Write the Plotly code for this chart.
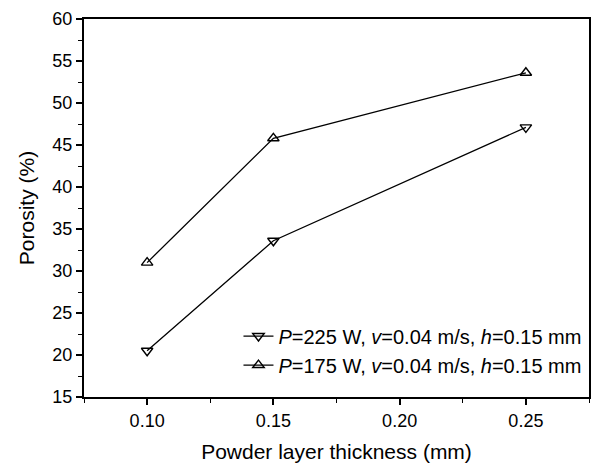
import plotly.graph_objects as go

thickness = [0.10, 0.15, 0.25]
porosity_225 = [20.5, 33.6, 47.1]
porosity_175 = [31.0, 45.8, 53.6]
label_225 = "<i>P</i>=225 W, <i>v</i>=0.04 m/s, <i>h</i>=0.15 mm"
label_175 = "<i>P</i>=175 W, <i>v</i>=0.04 m/s, <i>h</i>=0.15 mm"

FONT = "Liberation Sans, Arial, sans-serif"

fig = go.Figure()
fig.add_trace(go.Scatter(
    x=thickness, y=porosity_225, mode="lines+markers", name=label_225,
    line=dict(color="black", width=1.3),
    marker=dict(symbol="triangle-down-open", size=10, color="black", line=dict(width=1.4, color="black")),
))
fig.add_trace(go.Scatter(
    x=thickness, y=porosity_175, mode="lines+markers", name=label_175,
    line=dict(color="black", width=1.3),
    marker=dict(symbol="triangle-up-open", size=10, color="black", line=dict(width=1.4, color="black")),
))

fig.update_layout(
    width=595, height=466,
    margin=dict(l=84, r=4, t=19, b=69),
    paper_bgcolor="white", plot_bgcolor="white",
    font=dict(family=FONT, size=18, color="black"),
    showlegend=True,
    legend=dict(
        x=0.995, y=0.033, xanchor="right", yanchor="bottom",
        bgcolor="rgba(0,0,0,0)", font=dict(size=20, family=FONT),
        itemwidth=30, tracegroupgap=0,
    ),
)
fig.update_xaxes(
    range=[0.075, 0.275], tickvals=[0.10, 0.15, 0.20, 0.25],
    ticktext=["0.10", "0.15", "0.20", "0.25"],
    ticks="outside", ticklen=6, tickwidth=1.5, tickcolor="black",
    minor=dict(ticks="outside", ticklen=4, tickwidth=1.2, tickcolor="black", dtick=0.025, tick0=0),
    showline=True, linewidth=2, linecolor="black", mirror=True,
    showgrid=False, zeroline=False,
    title=dict(text="Powder layer thickness (mm)", font=dict(size=21, family=FONT), standoff=15),
    tickfont=dict(size=18),
)
fig.update_yaxes(
    range=[15, 60], dtick=5, tick0=15,
    ticks="outside", ticklen=6, tickwidth=1.5, tickcolor="black",
    minor=dict(ticks="outside", ticklen=4, tickwidth=1.2, tickcolor="black", dtick=2.5, tick0=15),
    showline=True, linewidth=2, linecolor="black", mirror=True,
    showgrid=False, zeroline=False,
    title=dict(text="Porosity (%)", font=dict(size=21, family=FONT), standoff=12),
    tickfont=dict(size=18),
)

fig.write_html("out.html")
